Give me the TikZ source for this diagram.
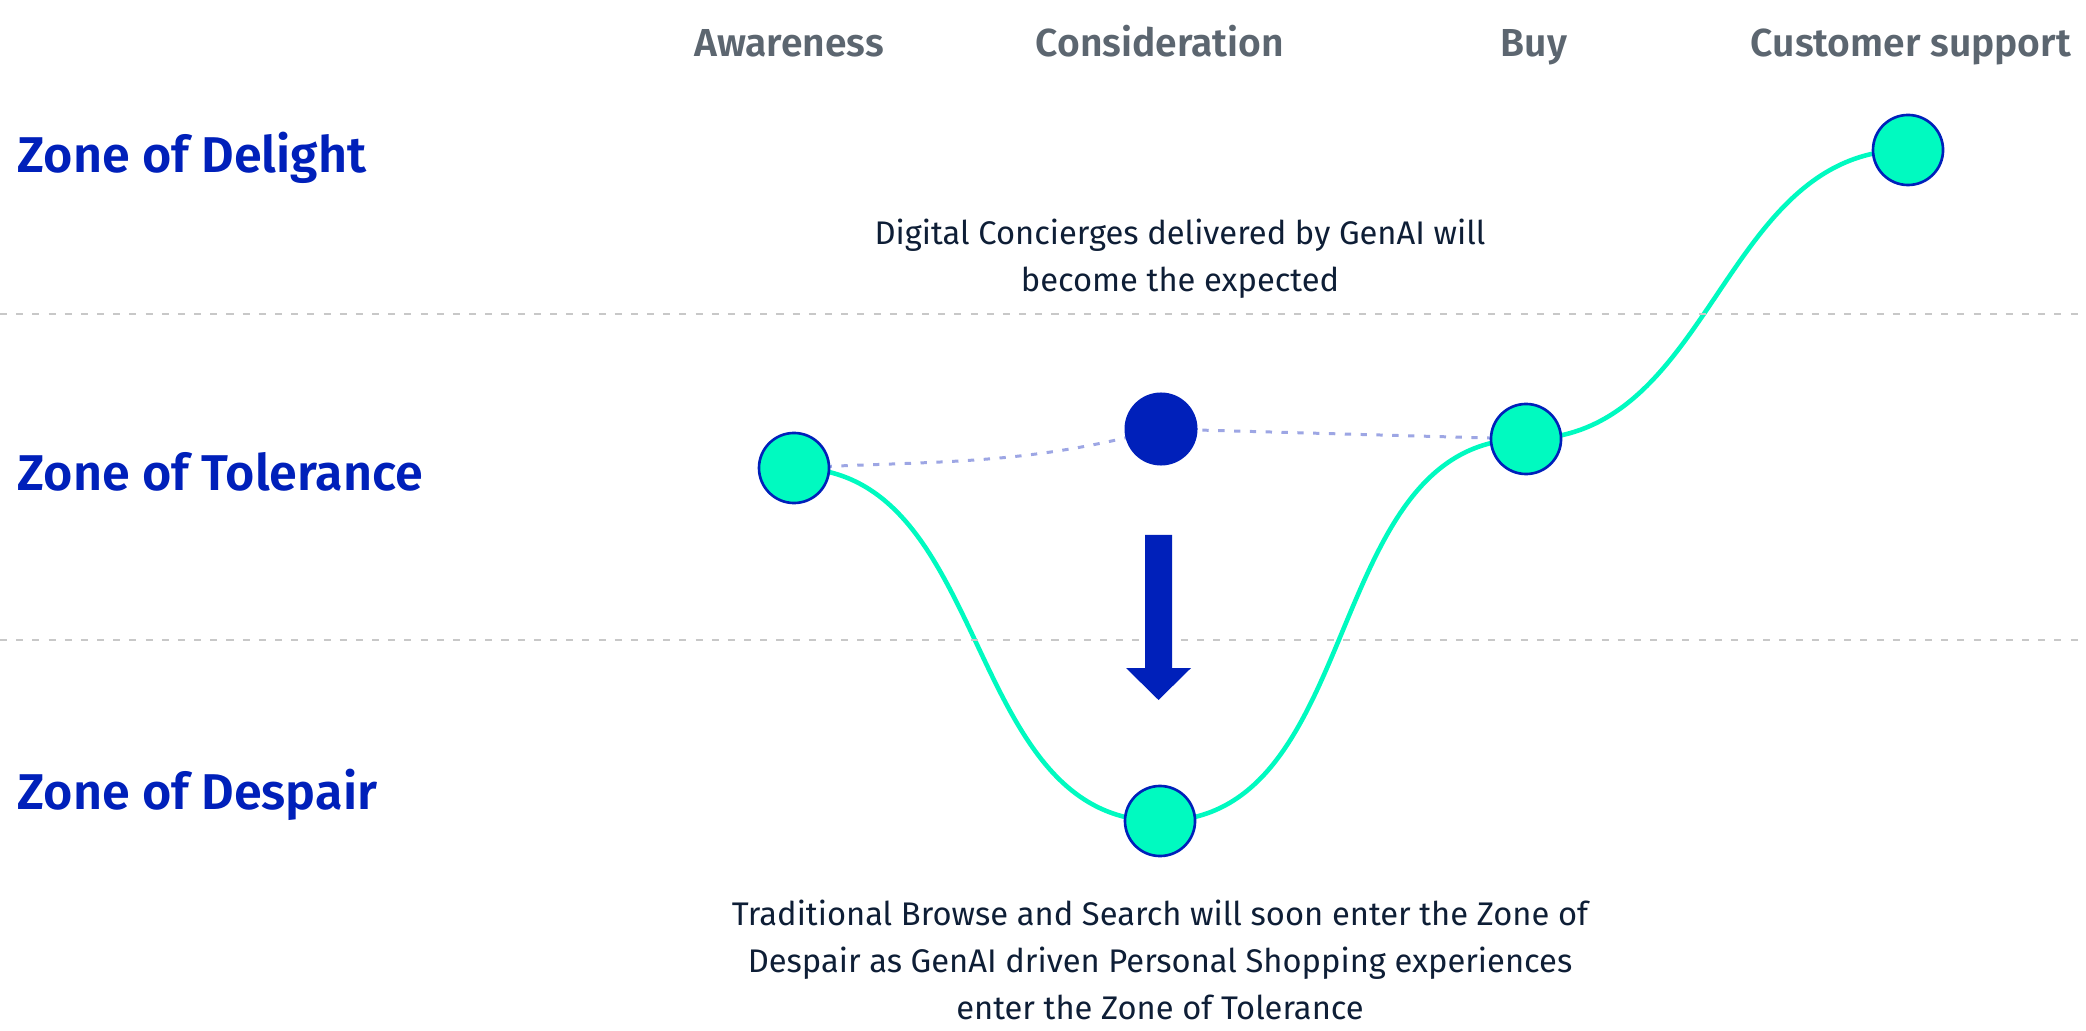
\documentclass[tikz,border=0pt]{standalone}
\usepackage{fontspec}
\setmainfont{Fira Sans}[BoldFont={Fira Sans SemiBold}]
\usetikzlibrary{backgrounds}

\definecolor{mint}{HTML}{00FAC0}
\definecolor{navy}{HTML}{0020BA}
\definecolor{haze}{HTML}{9DA6E4}
\definecolor{rule}{HTML}{C8C8C8}
\definecolor{stagegray}{HTML}{5C6670}
\definecolor{ink}{HTML}{0E1E36}

\tikzset{
	stage/.style={font=\bfseries\fontsize{11.1}{13}\selectfont, text=stagegray, anchor=base, inner sep=0pt},
	zone/.style={font=\bfseries\fontsize{14.3}{17}\selectfont, text=navy, anchor=base west, inner sep=0pt},
	note/.style={font=\fontsize{9.3}{13.4}\selectfont, text=ink, align=center, anchor=north, inner sep=0pt},
	touch/.style={circle, draw=navy, line width=0.75pt, fill=mint, minimum size=0.7cm, inner sep=0pt},
	goal/.style={circle, fill=navy, minimum size=0.73cm, inner sep=0pt},
	journey/.style={mint, line width=1.3pt},
	expected/.style={haze, line width=0.85pt, dash pattern=on 1.8pt off 2.7pt},
	border/.style={rule, line width=0.85pt, dash pattern=on 2pt off 2.6pt}
}

\begin{document}
\begin{tikzpicture}[x=0.01cm, y=0.01cm]
	%%%%% START %%%%%
	\useasboundingbox (0, 0) rectangle (2086, 1030);
	
	% zone borders
	\draw[border] (0, 716) -- (2086, 716);
	\draw[border] (0, 390) -- (2086, 390);
	
	% stages
	\node[stage] (awareness) at (789, 973) {Awareness};
	\node[stage] (consideration) at (1160, 973) {Consideration};
	\node[stage] (purchase) at (1534, 973) {Buy};
	\node[stage] (support) at (1911, 973) {Customer support};
	
	% zones
	\node[zone] (delight) at (17, 857) {Zone of Delight};
	\node[zone] (tolerance) at (17, 539) {Zone of Tolerance};
	\node[zone] (despair) at (17, 221) {Zone of Despair};
	
	% touch points
	\node[touch] (touchAware) at (794, 562) {};
	\node[goal] (touchConsider) at (1161, 601) {};
	\node[touch] (touchBuy) at (1526, 591) {};
	\node[touch] (touchSupport) at (1908, 880) {};
	\node[touch] (touchBrowse) at (1160, 209) {};
	
	\begin{pgfonlayer}{background}
		\draw[expected] (touchAware.center) to[out=3, in=195] (touchConsider.center) -- (touchBuy.center);
		\draw[journey] (touchAware.center) to[out=0, in=180] (touchBrowse.center)
			to[out=0, in=180] (touchBuy.center) to[out=0, in=180] (touchSupport.center);
	\end{pgfonlayer}
	
	% drop arrow
	\fill[navy] (1145, 495) -- (1172, 495) -- (1172, 362) -- (1191, 362) -- (1158.5, 330)
		-- (1126, 362) -- (1145, 362) -- cycle;
	
	% notes
	\node[note] (conciergeNote) at (1180, 812) {Digital Concierges delivered by GenAI will\\become the expected};
	\node[note] (browseNote) at (1160, 131) {Traditional Browse and Search will soon enter the Zone of\\Despair as GenAI driven Personal Shopping experiences\\enter the Zone of Tolerance};
	
	%%%%% END %%%%%
\end{tikzpicture}
\end{document}
